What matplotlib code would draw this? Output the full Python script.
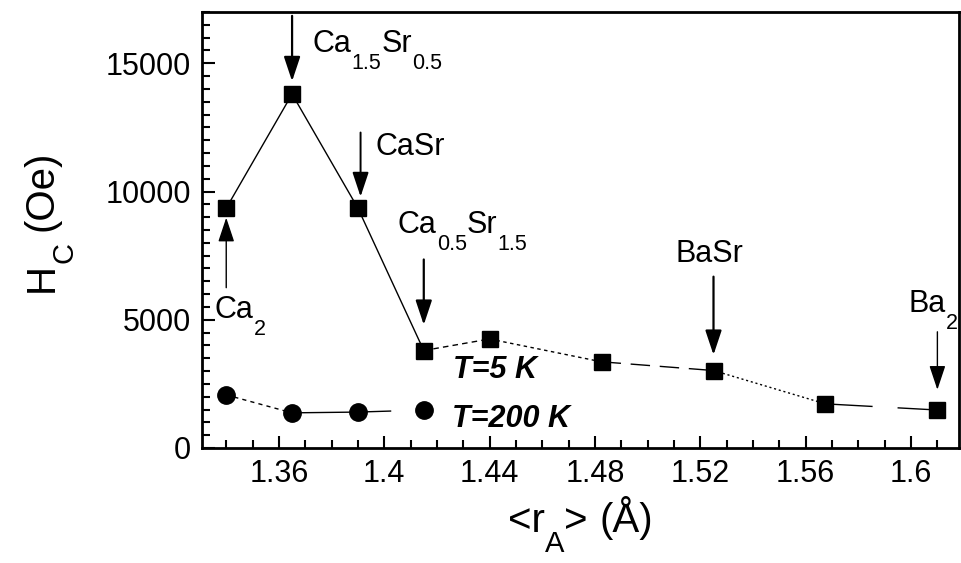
import matplotlib
matplotlib.use("Agg")
import matplotlib.pyplot as plt
from matplotlib.ticker import MultipleLocator, FixedLocator

plt.rcParams['font.family'] = ['Liberation Sans', 'DejaVu Sans']

DPI = 100

# Coercive field vs. mean A-site radius
r_a_5k = [1.34, 1.365, 1.39, 1.415, 1.44, 1.4825, 1.525, 1.5675, 1.61]
hc_5k = [9350, 13800, 9350, 3800, 4250, 3360, 3020, 1720, 1480]
r_a_200k = [1.34, 1.365, 1.39, 1.415]
hc_200k = [2070, 1370, 1400, 1480]

x_ticks = [1.36, 1.40, 1.44, 1.48, 1.52, 1.56, 1.60]
x_tick_labels = ['1.36', '1.4', '1.44', '1.48', '1.52', '1.56', '1.6']
y_ticks = [0, 5000, 10000, 15000]
y_tick_labels = ['0', '5000', '10000', '15000']

# compositions: (text, is_subscript) pieces, label position, arrow
comp_labels = [
    [('Ca', False), ('1.5', True), ('Sr', False), ('0.5', True)],
    [('CaSr', False)],
    [('Ca', False), ('0.5', True), ('Sr', False), ('1.5', True)],
    [('BaSr', False)],
    [('Ba', False), ('2', True)],
    [('Ca', False), ('2', True)],
]
comp_label_x = [1.3729, 1.3965, 1.4052, 1.5104, 1.5989, 1.3357]
comp_label_y = [15430, 11423, 8398, 7266, 5313, 5078]
arrow_x = [1.365, 1.391, 1.415, 1.525, 1.61, 1.34]
arrow_from = [16850, 12300, 7350, 6680, 4530, 6250]
arrow_to = [14300, 9800, 4800, 3630, 2270, 8980]
arrow_lw = [1.6, 1.4, 1.6, 1.6, 1.0, 1.0]

x_label_parts = [('<r', False), ('A', True), ('>', False), ('(Å)', False)]
y_label_parts = [('H', False), ('C', True), ('(Oe)', False)]

# line style of each connecting segment
seg_styles_5k = ['-', '-', '-', (0, (4, 3)), (0, (2.5, 2.5)), (0, (14, 7)),
                 (0, (1.5, 2)), (0, (34, 18))]
seg_styles_200k = [(0, (3, 3)), '-', (0, (24, 30))]

fig = plt.figure(figsize=(9.61, 5.63), dpi=DPI)
ax = fig.add_axes([0.2102, 0.2043, 0.7877, 0.7744])
renderer = fig.canvas.get_renderer()


def text_width(s, size):
    tmp = fig.text(0, 0, s, fontsize=size)
    w = tmp.get_window_extent(renderer).width
    tmp.remove()
    return w


def draw_formula(x, y, parts, coords, size, sub_size, drop, rotation=0,
                 spaces=(), align='left'):
    """Draw text with dropped subscripts; drop and spacing are in pixels."""
    widths = []
    gaps = []
    for i, (txt, sub) in enumerate(parts):
        fs = sub_size if sub else size
        widths.append(text_width(txt, fs))
        gaps.append(0.278 * size * DPI / 72 if i in spaces else 0.0)
    total = sum(widths) + sum(gaps)
    advance = -total / 2 if align == 'center' else 0.0
    for (txt, sub), w, g in zip(parts, widths, gaps):
        advance += g
        fs = sub_size if sub else size
        d = drop if sub else 0.0
        off = (advance, -d) if rotation == 0 else (d, advance)
        ax.annotate(txt, xy=(x, y), xycoords=coords,
                    xytext=(off[0] * 72 / DPI, off[1] * 72 / DPI),
                    textcoords='offset points', fontsize=fs, ha='left',
                    va='baseline', rotation=rotation, rotation_mode='anchor',
                    annotation_clip=False)
        advance += w


for i, ls in enumerate(seg_styles_5k):
    ax.plot(r_a_5k[i:i + 2], hc_5k[i:i + 2], color='black', lw=1.0, linestyle=ls, zorder=2)
for i, ls in enumerate(seg_styles_200k):
    ax.plot(r_a_200k[i:i + 2], hc_200k[i:i + 2], color='black', lw=1.0, linestyle=ls, zorder=2)

ax.plot(r_a_5k, hc_5k, linestyle='none', marker='s', ms=11.5, mfc='black', mec='black', mew=1, zorder=3)
ax.plot(r_a_200k, hc_200k, linestyle='none', marker='o', ms=12.5, mfc='black', mec='black', mew=1, zorder=3)

for parts, lx, ly, ax_x, a0, a1, lw in zip(comp_labels, comp_label_x, comp_label_y,
                                           arrow_x, arrow_from, arrow_to, arrow_lw):
    draw_formula(lx, ly, parts, 'data', 22, 15.5, 17)
    ax.annotate('', xy=(ax_x, a1), xytext=(ax_x, a0),
                arrowprops=dict(arrowstyle='-|>,head_length=1.5,head_width=0.5',
                                lw=lw, color='black', shrinkA=0, shrinkB=0))

ax.text(1.4261, 2734, 'T=5 K', fontsize=22, fontweight='bold', fontstyle='italic',
        ha='left', va='baseline')
ax.text(1.4257, 820, 'T=200 K', fontsize=22, fontweight='bold', fontstyle='italic',
        ha='left', va='baseline')

ax.set_xlim(1.3308, 1.6182)
ax.set_ylim(0, 17000)
ax.xaxis.set_major_locator(FixedLocator(x_ticks))
ax.set_xticklabels(x_tick_labels)
ax.xaxis.set_minor_locator(MultipleLocator(0.01))
ax.yaxis.set_major_locator(FixedLocator(y_ticks))
ax.set_yticklabels(y_tick_labels)
ax.yaxis.set_minor_locator(MultipleLocator(500))

ax.tick_params(which='both', direction='in', top=False, right=False, width=1.5, labelsize=22)
ax.tick_params(which='major', length=9, pad=8)
ax.tick_params(which='minor', length=5.5)
for sp in ax.spines.values():
    sp.set_linewidth(2)

# axis titles with lowered subscripts
draw_formula(0.5, -0.193, x_label_parts, 'axes fraction', 29, 21, 20,
             spaces=(3,), align='center')
draw_formula(-0.197, 0.52, y_label_parts, 'axes fraction', 29, 21, 20,
             rotation=90, spaces=(2,), align='center')

fig.savefig('out.png', dpi=DPI)
